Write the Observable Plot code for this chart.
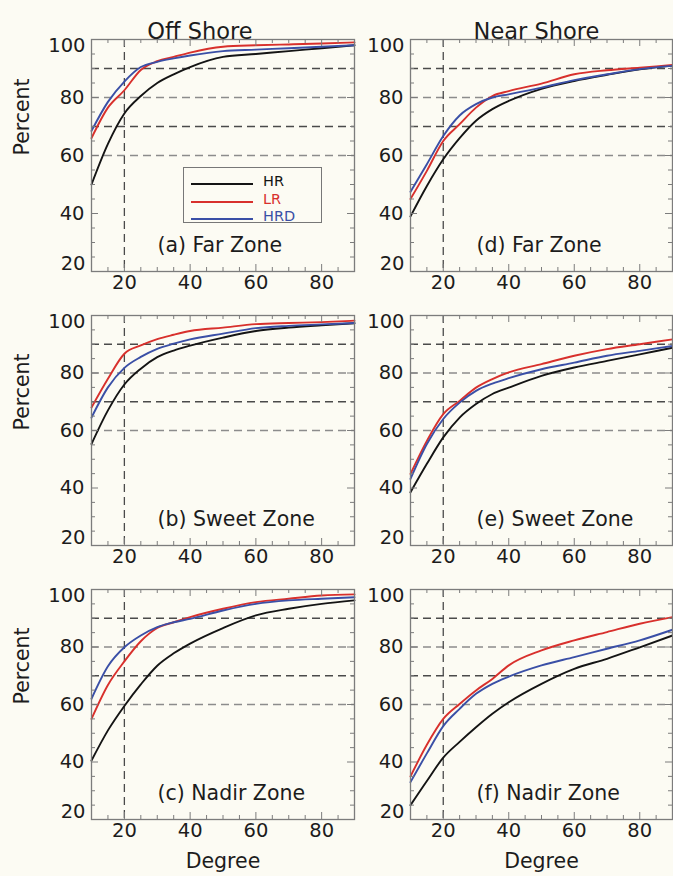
<!DOCTYPE html>
<html>
<head>
<meta charset="utf-8">
<script src="https://cdn.jsdelivr.net/npm/d3@7"></script>
<script src="https://cdn.jsdelivr.net/npm/@observablehq/plot@0.6"></script>
<style>
  body { margin: 0; background: #fcfbf3; }
  #fig { position: relative; width: 673px; height: 876px; overflow: hidden; background: #fcfbf3; font-family: "DejaVu Sans", sans-serif; }
  #fig svg { position: absolute; }
  .legend { position: absolute; border: 1px solid #777; box-sizing: border-box; }
  .legend .ln { position: absolute; height: 0; border-top: 2px solid; }
  .legend .lb { position: absolute; font-size: 14.5px; line-height: 1; }
</style>
</head>
<body>
<div id="fig"></div>
<script>
// ---- data ----
const degrees = [10, 15, 20, 25, 30, 35, 40, 50, 60, 70, 80, 90];
const series = ["HR", "LR", "HRD"];
const seriesColors = ["#141414", "#d8302c", "#3a4fa6"];

// (a) Off Shore, Far Zone
const offFarHR  = [50, 64, 74.5, 80.5, 85, 88, 90.5, 94, 95, 96, 97, 98];
const offFarLR  = [66, 76.5, 82.5, 89.5, 92.5, 94, 95.5, 97.5, 98, 98.3, 98.6, 99];
const offFarHRD = [68.5, 78.5, 85.5, 90.5, 92.3, 93.5, 94.5, 96, 96.5, 97, 97.5, 98];
// (b) Off Shore, Sweet Zone
const offSweetHR  = [55.3, 67, 76, 81.5, 85.5, 87.8, 89.5, 92.3, 94.6, 95.8, 96.6, 97.3];
const offSweetLR  = [68, 78, 86.7, 89.6, 91.8, 93.3, 94.6, 95.8, 97, 97.4, 97.7, 98.2];
const offSweetHRD = [64.5, 75, 81.8, 85.6, 88.4, 90.2, 91.7, 93.7, 95.6, 96.4, 96.9, 97.4];
// (c) Off Shore, Nadir Zone
const offNadirHR  = [40.5, 51, 59.5, 67, 73.5, 77.8, 81.2, 86.6, 91, 93.3, 95, 96.2];
const offNadirLR  = [55, 66.8, 75, 82, 86.6, 88.6, 90.4, 93.3, 95.6, 96.8, 97.9, 98.3];
const offNadirHRD = [62, 73.3, 79.9, 84, 86.9, 88.6, 89.8, 92.7, 95, 96.2, 96.8, 97.3];
// (d) Near Shore, Far Zone
const nearFarHR  = [39, 49.5, 58.7, 66, 72, 76, 78.8, 83, 85.7, 87.8, 89.7, 91];
const nearFarLR  = [45, 54.7, 65, 70.8, 76.5, 80.5, 82.2, 84.8, 88, 89.4, 90.3, 91.2];
const nearFarHRD = [47.5, 57, 66.7, 73.8, 77.7, 80, 81.1, 83.4, 86, 88, 89.8, 90.9];
// (e) Near Shore, Sweet Zone
const nearSweetHR  = [38.5, 48.4, 57.6, 64.5, 69.2, 72.7, 74.9, 79, 81.9, 84.2, 86.5, 88.8];
const nearSweetLR  = [44.9, 56.4, 65.7, 70.3, 74.9, 77.9, 80.2, 83.1, 86, 88.3, 90, 91.7];
const nearSweetHRD = [43.2, 55.3, 64, 69.7, 73.8, 76.3, 78.2, 81.3, 83.6, 86, 87.7, 89.4];
// (f) Near Shore, Nadir Zone
const nearNadirHR  = [25, 33.4, 41.5, 47, 52.1, 56.8, 60.8, 67.2, 72.4, 75.9, 79.9, 84];
const nearNadirLR  = [35, 46, 55, 60.2, 64.9, 68.9, 73.6, 78.8, 82.3, 85.2, 88.1, 90.4];
const nearNadirHRD = [33, 43, 52.5, 58.5, 63.7, 67.2, 69.7, 73.6, 76.5, 79.4, 82.3, 86];

const columnTitles = ["Off Shore", "Near Shore"];
const panelLabels = ["(a) Far Zone", "(b) Sweet Zone", "(c) Nadir Zone", "(d) Far Zone", "(e) Sweet Zone", "(f) Nadir Zone"];
const xLabelTicks = [20, 40, 60, 80];
const yLabelMid = [40, 60, 80];
const yLabelTop = [100];
const yLabelBottom = [20];
const xMinor = [15, 25, 30, 35, 45, 50, 55, 65, 70, 75, 85];
const yMinor = [25, 30, 35, 45, 50, 55, 65, 70, 75, 85, 90, 95];
const xMajor = [20, 40, 60, 80];
const yMajor = [40, 60, 80];
const gridLight = [60, 80];
const gridDark = [70, 90];
const gridX = [20];

// ---- layout ----
const cols = [
  { left: 0, width: 355, marginLeft: 91, marginRight: 1, titleDx: -23 },
  { left: 336, width: 337, marginLeft: 74, marginRight: 1, titleDx: -5 }
];
const rowsLayout = [
  { top: 0, marginTop: 39, frameH: 232, marginBottom: 30 },
  { top: 276, marginTop: 39, frameH: 230, marginBottom: 30 },
  { top: 550, marginTop: 39, frameH: 230, marginBottom: 57 }
];

const panelValues = [
  [offFarHR, offFarLR, offFarHRD],
  [offSweetHR, offSweetLR, offSweetHRD],
  [offNadirHR, offNadirLR, offNadirHRD],
  [nearFarHR, nearFarLR, nearFarHRD],
  [nearSweetHR, nearSweetLR, nearSweetHRD],
  [nearNadirHR, nearNadirLR, nearNadirHRD]
];

const fig = document.getElementById("fig");
const frameColor = "#7c7c7c";
const textColor = "#1c1c1c";
const dash = "8,5";

panelValues.forEach((vals, idx) => {
  const c = Math.floor(idx / 3), r = idx % 3;
  const col = cols[c], row = rowsLayout[r];
  const frameW = col.width - col.marginLeft - col.marginRight;
  const frameH = row.frameH;
  const data = [];
  series.forEach((s, i) => degrees.forEach((d, j) => data.push({ deg: d, pct: vals[i][j], series: s })));

  const marks = [
    Plot.ruleY(gridLight, { stroke: "#8c8c8c", strokeDasharray: dash, strokeWidth: 1.3 }),
    Plot.ruleY(gridDark, { stroke: "#4a4a4a", strokeDasharray: dash, strokeWidth: 1.3 }),
    Plot.ruleX(gridX, { stroke: "#4a4a4a", strokeDasharray: dash, strokeWidth: 1.3 }),
    Plot.line(data, { x: "deg", y: "pct", z: "series", stroke: "series", strokeWidth: 1.9, curve: "monotone-x" }),
    Plot.frame({ stroke: frameColor, strokeWidth: 1.3 }),
    Plot.tickX(xMinor, { insetTop: frameH - 4, stroke: frameColor }),
    Plot.tickX(xMinor, { insetBottom: frameH - 4, stroke: frameColor }),
    Plot.tickX(xMajor, { insetTop: frameH - 7, stroke: frameColor }),
    Plot.tickX(xMajor, { insetBottom: frameH - 7, stroke: frameColor }),
    Plot.tickY(yMinor, { insetRight: frameW - 4, stroke: frameColor }),
    Plot.tickY(yMinor, { insetLeft: frameW - 4, stroke: frameColor }),
    Plot.tickY(yMajor, { insetRight: frameW - 7, stroke: frameColor }),
    Plot.tickY(yMajor, { insetLeft: frameW - 7, stroke: frameColor }),
    Plot.text(xLabelTicks, { x: d => d, frameAnchor: "bottom", dy: 17, fontSize: 19.5, fill: textColor }),
    Plot.text(yLabelMid, { y: d => d, frameAnchor: "left", dx: -7, textAnchor: "end", fontSize: 19.5, fill: textColor }),
    Plot.text(yLabelTop, { y: d => d, frameAnchor: "left", dx: -6, dy: 6, textAnchor: "end", fontSize: 19.5, fill: textColor }),
    Plot.text(yLabelBottom, { y: d => d, frameAnchor: "left", dx: -6, dy: -8, textAnchor: "end", fontSize: 19.5, fill: textColor }),
    Plot.text([panelLabels[idx]], { frameAnchor: "bottom-left", dx: 66, dy: -20, textAnchor: "start", fontSize: 20.5, fill: textColor })
  ];
  if (r === 0) marks.push(Plot.text([columnTitles[c]], { frameAnchor: "top", dx: col.titleDx, dy: -16, fontSize: 22.5, fill: textColor }));
  if (c === 0) marks.push(Plot.text(["Percent"], { frameAnchor: "left", dx: -69, rotate: -90, fontSize: 20.5, fill: textColor }));
  if (r === 2) marks.push(Plot.text(["Degree"], { frameAnchor: "bottom", dy: 48, fontSize: 20.5, fill: textColor }));

  const chart = Plot.plot({
    width: col.width,
    height: row.marginTop + frameH + row.marginBottom,
    marginLeft: col.marginLeft,
    marginRight: col.marginRight,
    marginTop: row.marginTop,
    marginBottom: row.marginBottom,
    x: { domain: [10, 90], axis: null },
    y: { domain: [20, 100], axis: null },
    color: { domain: series, range: seriesColors },
    style: { background: "transparent", fontFamily: "DejaVu Sans", overflow: "visible" },
    marks
  });
  chart.style.left = col.left + "px";
  chart.style.top = row.top + "px";
  fig.appendChild(chart);
});

// legend in panel (a)
const legend = document.createElement("div");
legend.className = "legend";
Object.assign(legend.style, { left: "183px", top: "167px", width: "139px", height: "56px" });
series.forEach((s, i) => {
  const ln = document.createElement("div");
  ln.className = "ln";
  Object.assign(ln.style, { left: "7px", width: "62px", top: (15 + 17.5 * i) + "px", borderTopColor: seriesColors[i] });
  const lb = document.createElement("div");
  lb.className = "lb";
  lb.textContent = s;
  Object.assign(lb.style, { left: "79px", top: (6 + 17.5 * i) + "px", color: seriesColors[i] });
  legend.appendChild(ln);
  legend.appendChild(lb);
});
fig.appendChild(legend);
</script>
</body>
</html>
